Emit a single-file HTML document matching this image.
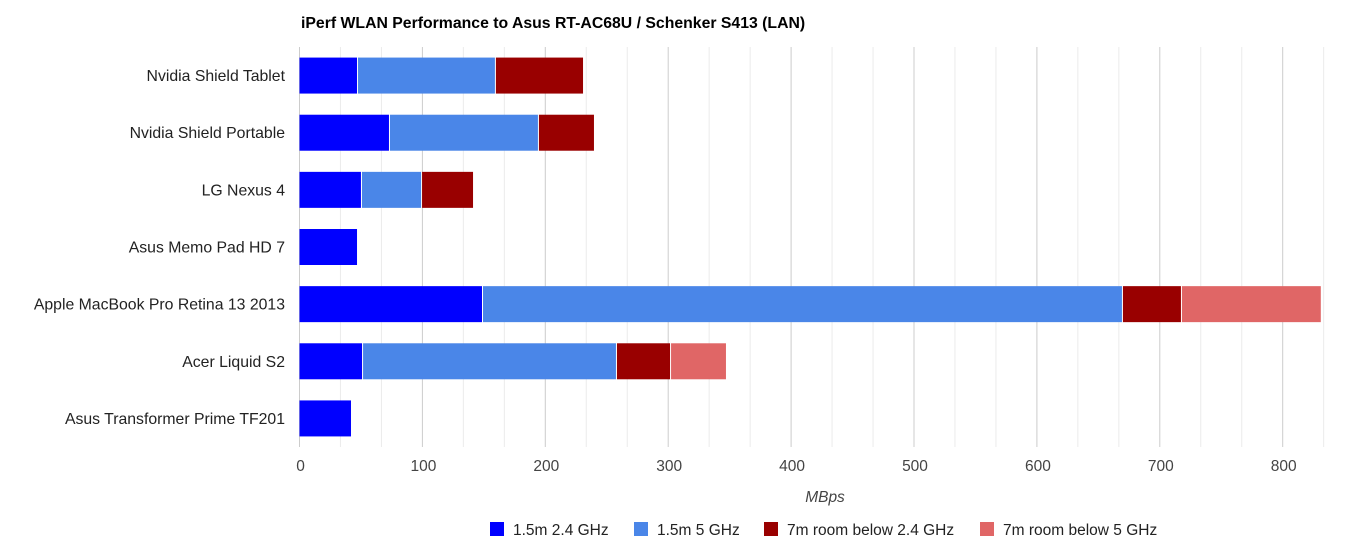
<!DOCTYPE html>
<html><head><meta charset="utf-8"><style>
body{margin:0;background:#fff;font-family:"Liberation Sans",Arial,sans-serif}
svg text{font-family:"Liberation Sans",Arial,sans-serif}
</style></head><body>
<svg id="chart" width="1364" height="553">
<text x="301" y="28" font-size="15.8" font-weight="bold" fill="#000">iPerf WLAN Performance to Asus RT-AC68U / Schenker S413 (LAN)</text>
<g id="grid"></g><g id="bars"></g><g id="labels"></g>
<text x="825" y="502" font-size="15.5" font-style="italic" fill="#444" text-anchor="middle">MBps</text>
<g id="legend"></g>
</svg>
<script>
const categories=["Nvidia Shield Tablet","Nvidia Shield Portable","LG Nexus 4","Asus Memo Pad HD 7","Apple MacBook Pro Retina 13 2013","Acer Liquid S2","Asus Transformer Prime TF201"];
const seriesNames=["1.5m 2.4 GHz","1.5m 5 GHz","7m room below 2.4 GHz","7m room below 5 GHz"];
const s1=[46.8,72.8,50,46.8,148.5,50.9,41.9];
const s2=[112.2,121.2,48.9,0,520.7,206.6,0];
const s3=[71.7,45.6,42.3,0,48,44,0];
const s4=[0,0,0,0,113.8,45.5,0];
const ticks=[0,100,200,300,400,500,600,700,800];
const colors=["#0000ff","#4a86e8","#990000","#e06666"];
const ns="http://www.w3.org/2000/svg";
const X0=299.5,SC=1.229,TOP=47,BOT=447;
const xs=v=>X0+v*SC;
const rowH=(BOT-TOP)/categories.length;
function mk(t,a){const e=document.createElementNS(ns,t);for(const k in a)e.setAttribute(k,a[k]);return e;}
const grid=document.getElementById('grid');
for(let v=0;v<=833.4;v+=100/3){
  const major=Math.abs(v/100-Math.round(v/100))<1e-6;
  const l=mk('line',{x1:xs(v),x2:xs(v),y1:TOP,y2:BOT,stroke:major?'#cccccc':'#ebebeb','stroke-width':1});
  
  
  grid.appendChild(l);
}
const labels=document.getElementById('labels');
ticks.forEach(t=>{
  const e=mk('text',{x:xs(t)+1,y:471,'font-size':15.5,fill:'#444','text-anchor':'middle'});
  e.textContent=t;
  
  
  labels.appendChild(e);
});
const series=[s1,s2,s3,s4];
const bars=document.getElementById('bars');
categories.forEach((c,i)=>{
  const cy=TOP+rowH*(i+0.5);
  const e=mk('text',{x:285,y:cy+5.5,'font-size':15.8,fill:'#222','text-anchor':'end'});
  e.textContent=c;
  
  
  labels.appendChild(e);
  let acc=0;
  series.forEach((s,j)=>{
    const v=s[i];if(!v)return;
    const x1=xs(acc),x2=xs(acc+v);
    const r=mk('rect',{x:x1+(acc>0?1:0),y:cy-18,width:Math.max(0,x2-x1-(acc>0?1:0)),height:36,fill:colors[j]});
    
    
    bars.appendChild(r);
    acc+=v;
  });
});
const leg=document.getElementById('legend');
const lx=[490,634,764,980];
seriesNames.forEach((n,j)=>{
  const g=mk('g',{});
  
  
  g.appendChild(mk('rect',{x:lx[j],y:522,width:14,height:14,fill:colors[j]}));
  const t=mk('text',{x:lx[j]+23,y:535,'font-size':15.5,fill:'#222'});
  t.textContent=n;g.appendChild(t);leg.appendChild(g);
});
</script>
</body></html>
